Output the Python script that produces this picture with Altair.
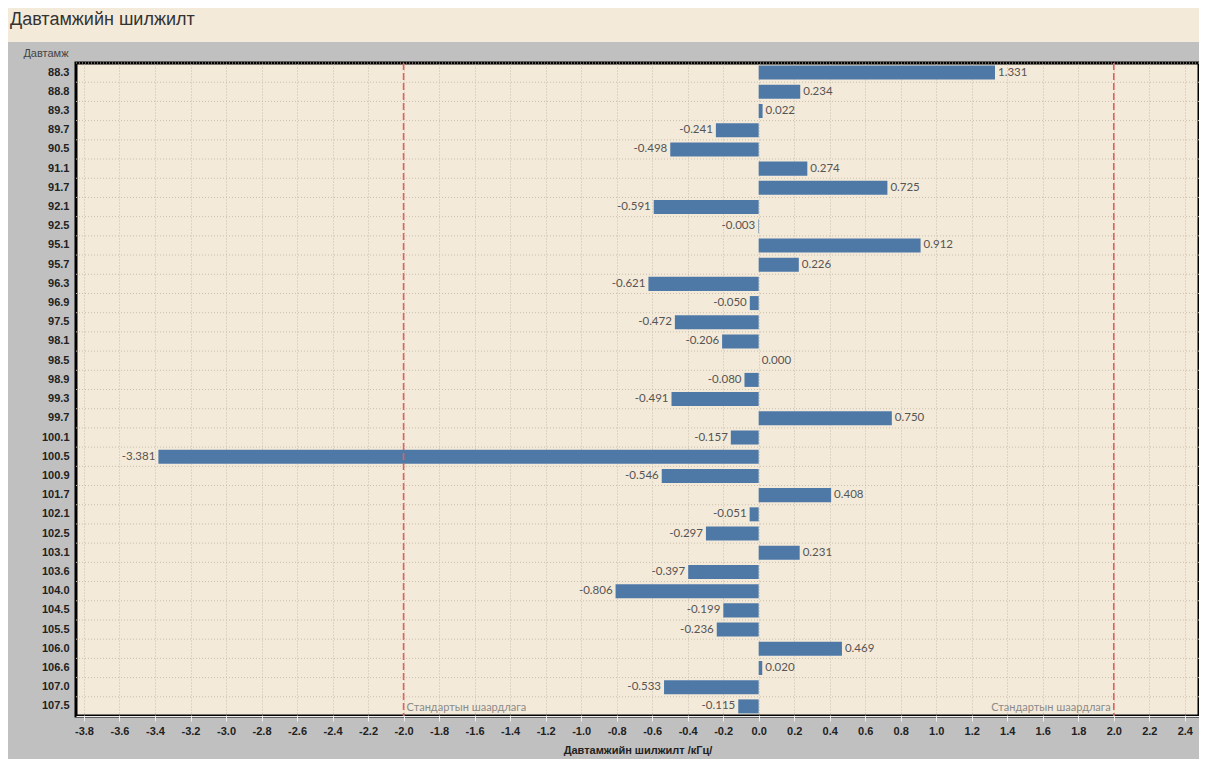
import altair as alt
import pandas as pd

# ---------------- data ----------------
freqs = ["88.3", "88.8", "89.3", "89.7", "90.5", "91.1", "91.7", "92.1", "92.5",
         "95.1", "95.7", "96.3", "96.9", "97.5", "98.1", "98.5", "98.9", "99.3",
         "99.7", "100.1", "100.5", "100.9", "101.7", "102.1", "102.5", "103.1",
         "103.6", "104.0", "104.5", "105.5", "106.0", "106.6", "107.0", "107.5"]
shifts = [1.331, 0.234, 0.022, -0.241, -0.498, 0.274, 0.725, -0.591, -0.003,
          0.912, 0.226, -0.621, -0.050, -0.472, -0.206, 0.000, -0.080, -0.491,
          0.750, -0.157, -3.381, -0.546, 0.408, -0.051, -0.297, 0.231,
          -0.397, -0.806, -0.199, -0.236, 0.469, 0.020, -0.533, -0.115]
x_ticks = [-3.8, -3.6, -3.4, -3.2, -3.0, -2.8, -2.6, -2.4, -2.2, -2.0, -1.8, -1.6,
           -1.4, -1.2, -1.0, -0.8, -0.6, -0.4, -0.2, 0.0, 0.2, 0.4, 0.6, 0.8,
           1.0, 1.2, 1.4, 1.6, 1.8, 2.0, 2.2, 2.4]
ref_values = [-2.0, 2.0]
ref_label = "Стандартын шаардлага"
title_text = "Давтамжийн шилжилт"
x_title = "Давтамжийн шилжилт /кГц/"
y_title = "Давтамж"

W, H = 1123, 653
BEIGE = "#f4ead9"
GREY = "#c0c0c0"
BAR = "#4e79a7"
PAD_INNER = 0.27
STEP = H / len(freqs)

df = pd.DataFrame({"freq": freqs, "shift": shifts})
ref_df = pd.DataFrame({"shift": ref_values,
                       "freq": [freqs[-1]] * len(ref_values),
                       "label": [ref_label] * len(ref_values)})

x_scale = alt.Scale(domain=[-3.845, 2.48], nice=False, zero=False)
y_scale = alt.Scale(domain=freqs, paddingInner=PAD_INNER, paddingOuter=PAD_INNER / 2)

x_axis = alt.Axis(values=x_ticks, title=x_title,
                  labelExpr="replace(format(datum.value, '.1f'), '\u2212', '-')",
                  labelOverlap=False, labelFlush=False, labelSeparation=0,
                  labelFont="Liberation Sans", labelFontWeight="bold", labelFontSize=11,
                  labelColor="#222", labelPadding=4,
                  titleFont="Liberation Sans", titleFontWeight="bold", titleFontSize=11,
                  titleColor="#222", titlePadding=8,
                  grid=True, gridColor="#c9bfae", gridDash=[1, 2], gridWidth=1,
                  tickColor="#eeeeee", tickSize=5, domainColor="#eeeeee", domainWidth=1)
y_axis = alt.Axis(title=y_title, titleAngle=0, titleAlign="right", titleBaseline="middle",
                  titleX=-8, titleY=-10, titleFont="Liberation Sans", titleFontSize=11,
                  titleFontWeight="normal", titleColor="#444",
                  labelFont="Liberation Sans", labelFontWeight="bold", labelFontSize=11,
                  labelColor="#222", labelPadding=7, ticks=False, domain=False, grid=False)


def X():
    return alt.X("shift:Q", scale=x_scale, axis=x_axis, title=x_title)


def Y(**kw):
    return alt.Y("freq:N", scale=y_scale, axis=y_axis, sort=freqs, title=y_title, **kw)


base = alt.Chart(df).transform_calculate(
    lbl="replace(format(datum.shift, '.3f'), '\u2212', '-')")

# title band (decoration outside plot)
band = alt.Chart(pd.DataFrame({"a": [0]})).mark_rect(color=BEIGE).encode(
    x=alt.value(-72), x2=alt.value(W + 6), y=alt.value(-56), y2=alt.value(-21))
title_mark = alt.Chart(pd.DataFrame({"t": [title_text]})).mark_text(
    align="left", baseline="middle", font="Liberation Sans", fontSize=18, color="#333"
).encode(x=alt.value(-66), y=alt.value(-43), text="t:N")

row_grid = base.mark_rule(color="#c9bfae", strokeDash=[1, 2], strokeWidth=1).encode(
    y=Y(bandPosition=0), yOffset=alt.value(-PAD_INNER * STEP / 2))

bars = base.mark_bar(color=BAR).encode(x=X(), y=Y())

lab_pos = base.transform_filter("datum.shift >= 0").mark_text(
    align="left", baseline="middle", dx=3, font="Lato", fontSize=11.5, color="#555"
).encode(x=X(), y=Y(), text="lbl:N")
lab_neg = base.transform_filter("datum.shift < 0").mark_text(
    align="right", baseline="middle", dx=-3, font="Lato", fontSize=11.5, color="#555"
).encode(x=X(), y=Y(), text="lbl:N")

refs = alt.Chart(ref_df).mark_rule(color="#e4605f", strokeDash=[7, 3], strokeWidth=1.6).encode(
    x=X())
ref_left = alt.Chart(ref_df).transform_filter("datum.shift < 0").mark_text(
    align="left", baseline="middle", dx=3, dy=2, font="Lato", fontSize=11, color="#8a8a8a"
).encode(x=X(), y=Y(), text="label:N")
ref_right = alt.Chart(ref_df).transform_filter("datum.shift > 0").mark_text(
    align="right", baseline="middle", dx=-3, dy=2, font="Lato", fontSize=11, color="#8a8a8a"
).encode(x=X(), y=Y(), text="label:N")

chart = alt.layer(band, title_mark, row_grid, bars, refs, lab_pos, lab_neg, ref_left, ref_right
).properties(
    width=W, height=H,
    autosize=alt.AutoSizeParams(type="none"),
    padding={"left": 68, "top": 55, "right": 0, "bottom": 43},
    background=GREY,
).configure_view(fill=BEIGE, stroke="#000000", strokeWidth=3
).configure_axisX(labelOverlap=False)

chart.save("out.html", embed_options={"renderer": "svg", "actions": False})
